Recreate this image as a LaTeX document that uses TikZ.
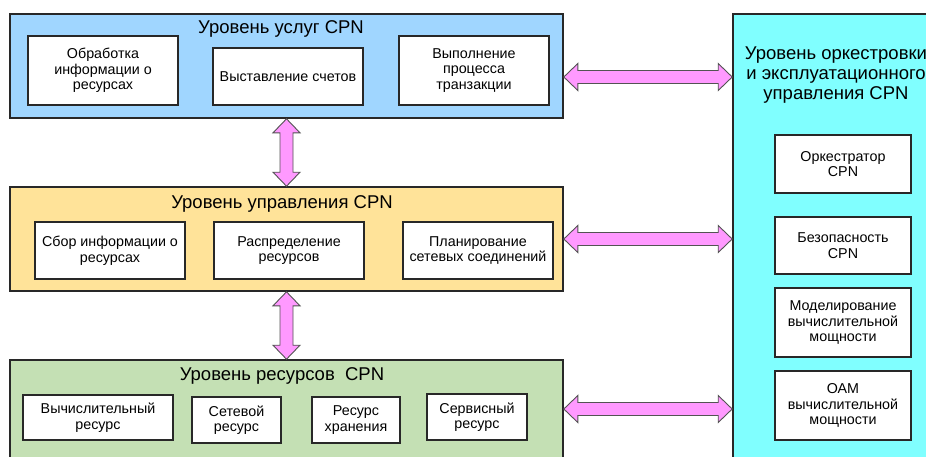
\documentclass[tikz,border=0pt]{standalone}
\usepackage{fontspec}
\setmainfont{Liberation Sans}
\usetikzlibrary{calc}

\definecolor{svcblue}{RGB}{160,214,255}
\definecolor{ctlorange}{RGB}{255,227,153}
\definecolor{resgreen}{RGB}{196,224,180}
\definecolor{orchcyan}{RGB}{128,255,255}
\definecolor{linkpink}{RGB}{255,153,255}
\definecolor{edge}{RGB}{40,40,40}

\tikzset{
  layer/.style={draw=edge, line width=1.6pt, inner sep=0pt},
  func/.style={draw=edge, line width=1.2pt, fill=white, inner sep=1pt,
    align=center, font=\fontsize{14.3}{15.5}\selectfont},
  layertitle/.style={inner sep=0pt, align=center, font=\fontsize{18.5}{20}\selectfont},
  blockarrow/.style={draw=edge!80, line width=0.9pt, fill=linkpink, line join=miter},
}

% double-headed block arrows between two points
\newcommand\harrow[2]{%
  \draw[blockarrow] (#1) -- ++(14,-13.5) -- ++(0,7) -- ($(#2)+(-14,-6.5)$) -- ++(0,-7)
    -- (#2) -- ++(-14,13.5) -- ++(0,-7) -- ($(#1)+(14,6.5)$) -- ++(0,7) -- cycle;}
\newcommand\varrow[2]{%
  \draw[blockarrow] (#1) -- ++(13.5,14) -- ++(-7,0) -- ($(#2)+(6.5,-14)$) -- ++(7,0)
    -- (#2) -- ++(-13.5,-14) -- ++(7,0) -- ($(#1)+(-6.5,14)$) -- ++(-7,0) -- cycle;}

\begin{document}
\begin{tikzpicture}[x=1pt, y=-1pt]
\useasboundingbox (0,0) rectangle (926,456);
\clip (0,0) rectangle (926,456);

% service layer
\node[layer, fill=svcblue, minimum width=553, minimum height=104] (svc) at (286.5,66) {};
\node[layertitle] (svct) at (281,29) {Уровень услуг CPN};
\node[func, minimum width=150, minimum height=69] (s1) at (103,70.5) {Обработка\\информации о\\ресурсах};
\node[func, minimum width=150, minimum height=57] (s2) at (288,76.5) {Выставление счетов};
\node[func, minimum width=150, minimum height=69] (s3) at (474,70.5) {Выполнение\\процесса\\транзакции};

% control layer
\node[layer, fill=ctlorange, minimum width=553, minimum height=104] (ctl) at (286.5,239) {};
\node[layertitle] (ctlt) at (282,204) {Уровень управления CPN};
\node[func, minimum width=150, minimum height=57] (c1) at (110,250.5) {Сбор информации о\\ресурсах};
\node[func, minimum width=150, minimum height=57] (c2) at (289,250.5) {Распределение\\ресурсов};
\node[func, minimum width=150, minimum height=57] (c3) at (478,250.5) {Планирование\\сетевых соединений};

% resource layer
\node[layer, fill=resgreen, minimum width=553, minimum height=110] (res) at (286.5,415) {};
\node[layertitle] (rest) at (282,376) {Уровень ресурсов\ \ CPN};
\node[func, minimum width=150, minimum height=45] (r1) at (98,417.5) {Вычислительный\\ресурс};
\node[func, minimum width=89, minimum height=46] (r2) at (236.5,420) {Сетевой\\ресурс};
\node[func, minimum width=88, minimum height=46] (r3) at (356,420) {Ресурс\\хранения};
\node[func, minimum width=100, minimum height=46] (r4) at (477,417) {Сервисный\\ресурс};

% orchestration and operations layer
\node[layer, fill=orchcyan, minimum width=207, minimum height=456] (orc) at (836.5,242) {};
\node[layertitle] (orct) at (836,75) {Уровень оркестровки\\и эксплуатационного\\управления CPN};
\node[func, minimum width=136, minimum height=58] (o1) at (843,164) {Оркестратор\\CPN};
\node[func, minimum width=136, minimum height=57] (o2) at (843,245.5) {Безопасность\\CPN};
\node[func, minimum width=136, minimum height=69] (o3) at (843,322.5) {Моделирование\\вычислительной\\мощности};
\node[func, minimum width=136, minimum height=69] (o4) at (843,405.5) {ОАМ\\вычислительной\\мощности};

% links between layers
\coordinate (svcR) at ([yshift=-11pt]svc.east);
\coordinate (orcS) at (orc.west |- svcR);
\coordinate (orcC) at (orc.west |- ctl.east);
\coordinate (resR) at ([yshift=6pt]res.east);
\coordinate (orcR) at (orc.west |- resR);

\harrow{svcR}{orcS}
\harrow{ctl.east}{orcC}
\harrow{resR}{orcR}
\varrow{svc.south}{ctl.north}
\varrow{ctl.south}{res.north}
\end{tikzpicture}
\end{document}
